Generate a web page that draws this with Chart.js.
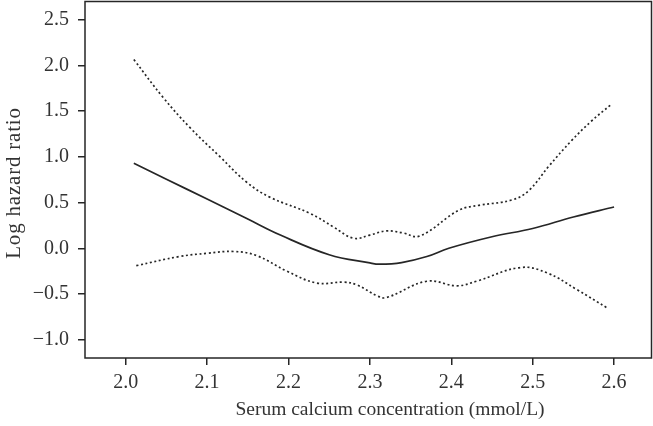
<!DOCTYPE html>
<html>
<head>
<meta charset="utf-8">
<script src="https://cdn.jsdelivr.net/npm/chart.js@4"></script>
<style>
  html, body { margin: 0; padding: 0; background: #fff; }
  #wrap { width: 653px; height: 426px; }
</style>
</head>
<body>
<div id="wrap"><canvas id="hazardChart"></canvas></div>
<script>
// Spline estimate and 95% CI
const estX = [2.01, 2.05, 2.1, 2.15, 2.19, 2.25, 2.3, 2.312, 2.339, 2.37, 2.397, 2.45, 2.5, 2.55, 2.6];
const estY = [0.93, 0.755, 0.54, 0.32, 0.145, -0.07, -0.16, -0.174, -0.156, -0.09, 0.0, 0.126, 0.217, 0.343, 0.452];

const upperX = [2.01, 2.046, 2.079, 2.116, 2.149, 2.177, 2.227, 2.255, 2.28, 2.3, 2.32, 2.34, 2.361, 2.41, 2.434, 2.475, 2.495, 2.52, 2.548, 2.572, 2.596];
const upperY = [2.065, 1.65, 1.32, 1.0, 0.72, 0.56, 0.38, 0.235, 0.11, 0.145, 0.19, 0.17, 0.134, 0.42, 0.47, 0.53, 0.63, 0.9, 1.18, 1.39, 1.57];

const lowerX = [2.013, 2.066, 2.1, 2.133, 2.161, 2.198, 2.235, 2.268, 2.284, 2.309, 2.32, 2.37, 2.407, 2.431, 2.485, 2.518, 2.554, 2.593];
const lowerY = [-0.19, -0.09, -0.055, -0.035, -0.08, -0.25, -0.38, -0.37, -0.4, -0.52, -0.54, -0.36, -0.41, -0.36, -0.21, -0.27, -0.45, -0.66];

const xTicks = [2.0, 2.1, 2.2, 2.3, 2.4, 2.5, 2.6];
const yTicks = [-1.0, -0.5, 0.0, 0.5, 1.0, 1.5, 2.0, 2.5];

const xTitle = 'Serum calcium concentration (mmol/L)';
const yTitle = 'Log hazard ratio';

const ink = '#262626';
const textInk = '#333';
const serif = "'Liberation Serif', 'DejaVu Serif', serif";

function pts(xs, ys) {
    return xs.map((x, i) => ({ x: x, y: ys[i] }));
}

// frame round the plot area plus the two axis titles
const frame = {
    id: 'frame',
    afterDraw(chart) {
        const a = chart.chartArea;
        const ctx = chart.ctx;
        ctx.save();
        ctx.strokeStyle = ink;
        ctx.lineWidth = 1.5;
        ctx.strokeRect(a.left, a.top, a.right - a.left, a.bottom - a.top);

        ctx.fillStyle = textInk;
        ctx.textAlign = 'center';
        ctx.textBaseline = 'middle';
        ctx.font = '19.5px ' + serif;
        ctx.fillText(xTitle, 390, 410);

        ctx.translate(14, 183);
        ctx.rotate(-Math.PI / 2);
        ctx.font = '21px ' + serif;
        ctx.letterSpacing = '0.8px';
        ctx.fillText(yTitle, 0, 0);
        ctx.restore();
    }
};

new Chart(document.getElementById('hazardChart'), {
    type: 'line',
    data: {
        datasets: [
            { label: 'Estimate', data: pts(estX, estY), borderColor: ink, borderWidth: 1.7, tension: 0.4 },
            { label: 'Upper', data: pts(upperX, upperY), borderColor: ink, borderWidth: 1.7, borderDash: [2, 2.6], tension: 0.4 },
            { label: 'Lower', data: pts(lowerX, lowerY), borderColor: ink, borderWidth: 1.7, borderDash: [2, 2.6], tension: 0.4 }
        ]
    },
    options: {
        responsive: true,
        maintainAspectRatio: false,
        animation: false,
        elements: { point: { radius: 0 } },
        layout: { padding: { top: 1.5, right: 1.5, left: 0, bottom: 0 } },
        plugins: { legend: { display: false }, tooltip: { enabled: false } },
        scales: {
            x: {
                type: 'linear',
                min: 1.95,
                max: 2.646,
                afterBuildTicks: s => { s.ticks = xTicks.map(v => ({ value: v })); },
                afterFit: s => { s.height = 68; s.paddingLeft = 0; s.paddingRight = 0; },
                border: { display: false },
                grid: { drawOnChartArea: false, tickLength: 7, color: ink, lineWidth: 1.5 },
                ticks: { color: textInk, font: { family: serif, size: 20 }, padding: 6, maxRotation: 0, callback: v => v.toFixed(1) }
            },
            y: {
                min: -1.2,
                max: 2.7,
                afterBuildTicks: s => { s.ticks = yTicks.map(v => ({ value: v })); },
                afterFit: s => { s.width = 85; s.paddingTop = 0; s.paddingBottom = 0; },
                border: { display: false },
                grid: { drawOnChartArea: false, tickLength: 7, color: ink, lineWidth: 1.5 },
                ticks: { color: textInk, font: { family: serif, size: 20 }, padding: 9, callback: v => (v < 0 ? '\u2212' + Math.abs(v).toFixed(1) : v.toFixed(1)) }
            }
        }
    },
    plugins: [frame]
});
</script>
</body>
</html>
